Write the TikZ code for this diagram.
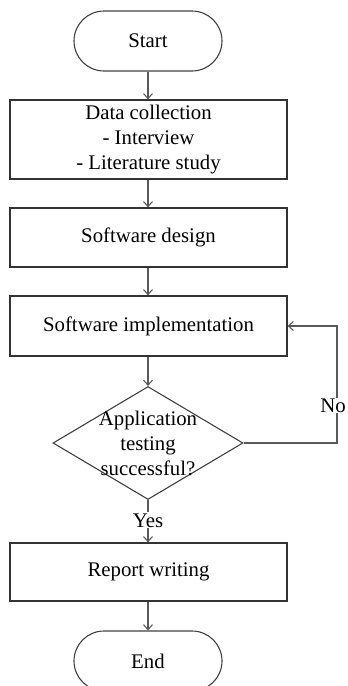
\documentclass[tikz,border=0pt]{standalone}
\usepackage{fontspec}
\setmainfont{Liberation Serif}
\usetikzlibrary{shapes.misc,shapes.geometric,arrows.meta}
\begin{document}
\begin{tikzpicture}[x=1pt,y=1pt,
  every node/.style={font=\fontsize{20.8}{25}\selectfont, text=black},
  terminal/.style={rounded rectangle, draw=black!75, line width=1.1pt, minimum width=148pt, minimum height=60pt, inner sep=0pt},
  procbox/.style={rectangle, draw=black!80, line width=1.3pt, minimum width=277pt, inner sep=0pt, align=center},
  decision/.style={diamond, draw=black!75, line width=1.1pt, minimum width=190pt, minimum height=113pt, aspect=1.68, inner sep=0pt},
  flow/.style={draw=black!65, line width=1.1pt, -{Straight Barb[length=5pt,width=9pt]}},
  lbl/.style={fill=white, inner sep=1pt}
]
\useasboundingbox (0,0) rectangle (348,-686);
\node[terminal] (start) at (148,-41) {Start};
\node[procbox, minimum height=79pt] (data) at (148.5,-139.5) {Data collection\\- Interview\\- Literature study};
\node[procbox, minimum height=59pt] (design) at (148.5,-237.5) {Software design};
\node[procbox, minimum height=60pt] (impl) at (148.5,-326) {Software implementation};
\node[decision] (dec) at (148,-443) {};
\node[align=center, inner sep=0pt] (dectext) at (148,-443) {Application\\testing\\successful?};
\node[procbox, minimum height=58pt] (report) at (148.5,-572) {Report writing};
\node[terminal] (end) at (148,-661) {End};
\coordinate (loopx) at (337,-443);
\draw[flow] (start.south) -- (start.south |- data.north);
\draw[flow] (data.south -| start) -- (design.north -| start);
\draw[flow] (design.south -| start) -- (impl.north -| start);
\draw[flow] (impl.south -| start) -- (dec.north);
\draw[flow] (dec.south) -- node[lbl, pos=0.48] {Yes} (report.north -| dec);
\draw[flow] (report.south -| start) -- (end.north);
\draw[flow] (dec.east) -- (loopx) -- node[lbl, pos=0.32, inner sep=0.5pt, xshift=-4pt] {No} (loopx |- impl.east) -- (impl.east);
\end{tikzpicture}
\end{document}
